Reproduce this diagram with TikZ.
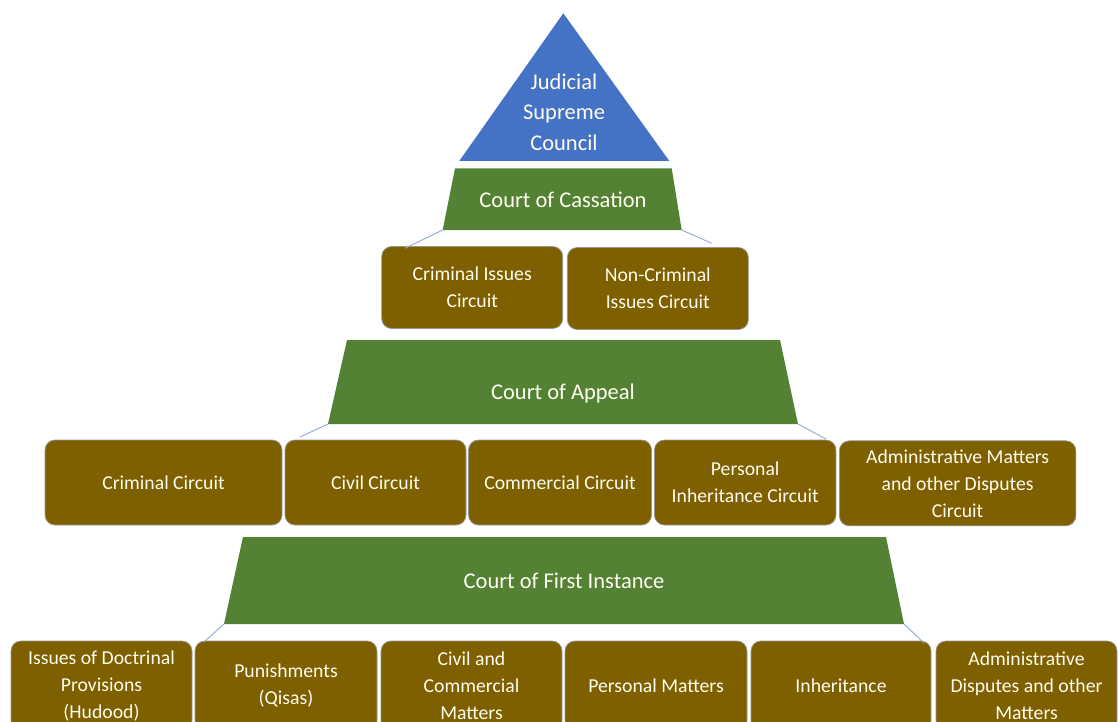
\documentclass[tikz,border=0pt]{standalone}
\usepackage{fontspec}
\setmainfont{Carlito}
\definecolor{pblue}{RGB}{68,114,196}
\definecolor{pgreen}{RGB}{84,130,53}
\definecolor{pbrown}{RGB}{127,96,0}
\definecolor{boxline}{RGB}{150,150,150}
\definecolor{conn}{RGB}{143,170,210}
\definecolor{ptext}{RGB}{255,252,240}
\begin{document}
\begin{tikzpicture}[x=1pt,y=-1pt,
  box/.style={draw=boxline, line width=0.7pt, fill=pbrown, rounded corners=10pt,
    text=ptext, font=\fontsize{19.7}{27}\selectfont, align=center, inner sep=0pt},
  lvl/.style={fill=pgreen},
  lvltext/.style={text=ptext, font=\fontsize{22.5}{27}\selectfont, align=center, inner sep=0pt},
  conline/.style={draw=conn, line width=0.9pt}]
\clip (0,0) rectangle (1118,722);
\fill[white] (0,0) rectangle (1118,722);

% apex triangle
\fill[pblue] (563.3,13.3) -- (669.3,161) -- (459.3,161) -- cycle;
\node[text=ptext, font=\fontsize{22.5}{30.5}\selectfont, align=center, inner sep=0pt] (jsc) at (564,112) {Judicial\\Supreme\\Council};

% Court of Cassation
\coordinate (cassBL) at (442.7,230);
\coordinate (cassBR) at (681.7,230);
\fill[lvl] (455,168.3) -- (671.7,168.3) -- (cassBR) -- (cassBL) -- cycle;
\node[lvltext] (cass) at (563,200) {Court of Cassation};

% level 2 boxes
\node[box, minimum width=181pt, minimum height=82pt] (cic) at (472.2,287.5) {Criminal Issues\\Circuit};
\node[box, minimum width=181pt, minimum height=82pt] (ncic) at (657.8,288.5) {Non-Criminal\\Issues Circuit};
\coordinate (c1) at (405,248.3);
\coordinate (c2) at (711.7,243.3);
\draw[conline] (cassBL) -- (c1);
\draw[conline] (cassBR) -- (c2);

% Court of Appeal
\coordinate (appBL) at (328,424);
\coordinate (appBR) at (798,424);
\fill[lvl] (347,340) -- (780,340) -- (appBR) -- (appBL) -- cycle;
\node[lvltext] (app) at (563,393) {Court of Appeal};

% level 3 boxes
\node[box, minimum width=237pt, minimum height=85pt] (crc) at (163.5,482.5) {Criminal Circuit};
\node[box, minimum width=181pt, minimum height=85pt] (cvc) at (375.5,482.5) {Civil Circuit};
\node[box, minimum width=183pt, minimum height=85pt] (cmc) at (560,482.5) {Commercial Circuit};
\node[box, minimum width=181.5pt, minimum height=85pt] (pic) at (745.2,482.5) {Personal\\Inheritance Circuit};
\node[box, minimum width=236.5pt, minimum height=85pt] (amc) at (957.6,483.3) {Administrative Matters\\and other Disputes\\Circuit};
\coordinate (a1) at (300,437);
\coordinate (a2) at (826,439);
\draw[conline] (appBL) -- (a1);
\draw[conline] (appBR) -- (a2);

% Court of First Instance
\coordinate (fiBL) at (224,624);
\coordinate (fiBR) at (904,624);
\fill[lvl] (243,537) -- (886,537) -- (fiBR) -- (fiBL) -- cycle;
\node[lvltext] (fi) at (564,581) {Court of First Instance};

% level 4 boxes
\node[box, minimum width=181pt, minimum height=90pt] (idp) at (101.5,686) {Issues of Doctrinal\\Provisions\\(Hudood)};
\node[box, minimum width=182pt, minimum height=90pt] (pun) at (286,686) {Punishments\\(Qisas)};
\node[box, minimum width=181pt, minimum height=90pt] (ccm) at (471.5,686) {Civil and\\Commercial\\Matters};
\node[box, minimum width=182pt, minimum height=90pt] (pm) at (656,686) {Personal Matters};
\node[box, minimum width=180pt, minimum height=90pt] (inh) at (841,686) {Inheritance};
\node[box, minimum width=181pt, minimum height=90pt] (adm) at (1026.5,686) {Administrative\\Disputes and other\\Matters};
\coordinate (f1) at (204,642);
\coordinate (f2) at (924,643);
\draw[conline] (fiBL) -- (f1);
\draw[conline] (fiBR) -- (f2);
\end{tikzpicture}
\end{document}
